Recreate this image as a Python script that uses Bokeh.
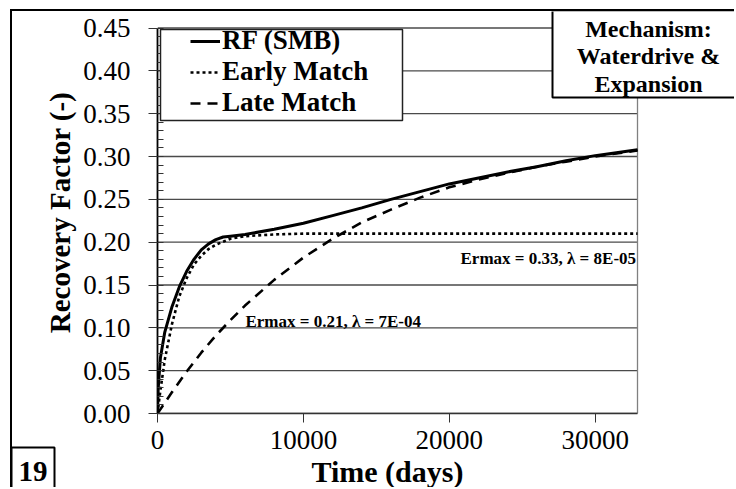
from bokeh.plotting import figure
from bokeh.models import (Range1d, FixedTicker, Legend, LegendItem, BoxAnnotation, Label, Title)
from bokeh.embed import file_html
from bokeh.resources import INLINE

# ---- data ----
time_rf = [0, 50, 200, 500, 1000, 1500, 2000, 2500, 3000, 3500, 4000, 4500, 5000, 6000,
           8000, 10000, 12000, 14000, 16000, 18000, 20000, 22000, 24000, 26000, 28000, 30000, 32900]
rf_smb = [0, 0.030, 0.065, 0.095, 0.125, 0.148, 0.166, 0.180, 0.191, 0.198, 0.203, 0.206, 0.207, 0.209,
          0.215, 0.222, 0.231, 0.240, 0.250, 0.259, 0.268, 0.275, 0.282, 0.288, 0.295, 0.301, 0.308]

time_early = [0, 200, 500, 1000, 1500, 2000, 2500, 3000, 3500, 4000, 5000, 6000, 8000, 10000,
              15000, 20000, 25000, 32900]
rf_early = [0, 0.027, 0.063, 0.105, 0.137, 0.158, 0.174, 0.184, 0.192, 0.197, 0.204, 0.207, 0.209, 0.210,
            0.210, 0.210, 0.210, 0.210]

time_late = [0, 1000, 2000, 3000, 4000, 5000, 6000, 8000, 10000, 12000, 14000, 16000, 18000, 20000,
             22000, 24000, 26000, 28000, 30000, 32900]
rf_late = [0, 0.025, 0.049, 0.071, 0.091, 0.109, 0.126, 0.156, 0.182, 0.204, 0.223, 0.238, 0.252, 0.264,
           0.273, 0.281, 0.288, 0.294, 0.300, 0.307]

series_names = ["RF (SMB)", "Early Match", "Late Match"]

x_max = 32900
y_max = 0.45
x_ticks = [0, 10000, 20000, 30000]
x_tick_labels = ["0", "10000", "20000", "30000"]
y_ticks = [0.0, 0.05, 0.10, 0.15, 0.20, 0.25, 0.30, 0.35, 0.40, 0.45]
y_tick_labels = ["0.00", "0.05", "0.10", "0.15", "0.20", "0.25", "0.30", "0.35", "0.40", "0.45"]
y_minor = [round(i * 0.01, 2) for i in range(46)]

x_title = "Time (days)"
y_title = "Recovery Factor (-)"
note_late = "Ermax = 0.33, \u03bb = 8E-05"
note_early = "Ermax = 0.21, \u03bb = 7E-04"
mechanism_lines = ["Mechanism:", "Waterdrive &", "Expansion"]
panel_number = "19"

FONT = "Liberation Serif"

# ---- layout (canvas pixels) ----
W, H = 724, 478
FL, FB = 145, 76             # frame left / bottom border
PLOT_W, PLOT_H = 480, 385.5  # size of the visible plotting box inside the frame
frame_w, frame_h = W - FL, H - FB
x_end = x_max * frame_w / PLOT_W
y_end = y_max * frame_h / PLOT_H

p = figure(width=W, height=H, output_backend="svg", toolbar_location=None, title_location=None,
           x_range=Range1d(0, x_end), y_range=Range1d(0, y_end),
           min_border_left=FL, min_border_right=0, min_border_top=0, min_border_bottom=FB)
p.styles = {"margin-left": "10px", "margin-top": "9px",
            "border-left": "2px solid black", "border-top": "2px solid black"}
p.background_fill_color = "white"
p.border_fill_color = "white"
p.outline_line_color = None
p.xgrid.grid_line_color = None
p.ygrid.grid_line_color = None

# horizontal grid lines and right border of the plotting box
n = len(y_ticks)
p.segment(x0=[0] * n, y0=y_ticks, x1=[x_max] * n, y1=y_ticks, line_color="#4a4a4a", line_width=1.3)
p.segment(x0=[x_max], y0=[0], x1=[x_max], y1=[y_max], line_color="#808080", line_width=1.3)

# axes
xa = p.xaxis[0]
xa.bounds = (0, x_max)
xa.ticker = FixedTicker(ticks=x_ticks)
xa.major_label_overrides = {t: l for t, l in zip(x_ticks, x_tick_labels)}
xa.major_tick_out = 9
xa.major_tick_in = 0
xa.minor_tick_out = 0
xa.minor_tick_in = 0
xa.major_tick_line_color = "#333333"
xa.axis_line_color = "#333333"
xa.axis_line_width = 1.3
xa.major_label_text_font = FONT
xa.major_label_text_font_size = "27px"
xa.major_label_text_color = "black"
xa.major_label_standoff = 8

ya = p.yaxis[0]
ya.bounds = (0, y_max)
ya.ticker = FixedTicker(ticks=y_ticks, minor_ticks=y_minor)
ya.major_label_overrides = {t: l for t, l in zip(y_ticks, y_tick_labels)}
ya.major_tick_out = 9
ya.major_tick_in = 0
ya.minor_tick_out = 0
ya.minor_tick_in = 6
ya.minor_tick_line_color = "#333333"
ya.major_tick_line_color = "#333333"
ya.axis_line_color = "black"
ya.axis_line_width = 1.8
ya.major_label_text_font = FONT
ya.major_label_text_font_size = "27px"
ya.major_label_text_color = "black"
ya.major_label_standoff = 18
ya.axis_label = y_title
ya.axis_label_text_font = FONT
ya.axis_label_text_font_size = "29px"
ya.axis_label_text_font_style = "bold"
ya.axis_label_text_color = "black"
ya.axis_label_standoff = 4

# x-axis title (centred under the visible plotting box, not the wider frame)
time_title = Title(text=x_title, align="left", vertical_align="bottom", offset=154, standoff=3,
                   text_font=FONT, text_font_size="30px", text_font_style="bold", text_color="black")
p.add_layout(time_title, "below")

# series
r_rf = p.line(time_rf, rf_smb, line_color="black", line_width=3)
r_early = p.line(time_early, rf_early, line_color="black", line_width=2.6, line_dash="3 3")
r_late = p.line(time_late, rf_late, line_color="black", line_width=2.6, line_dash="10 7")

# annotations on the plot
p.add_layout(Label(x=32800, y=0.181, text=note_late, text_align="right", text_baseline="alphabetic",
                   text_font=FONT, text_font_size="17px", text_font_style="bold", text_color="black"))
p.add_layout(Label(x=6030, y=0.107, text=note_early, text_align="left", text_baseline="alphabetic",
                   text_font=FONT, text_font_size="17px", text_font_style="bold", text_color="black"))

# legend box + legend
p.add_layout(BoxAnnotation(left=146, right=388, top=16, bottom=107,
                           left_units="canvas", right_units="canvas", top_units="canvas", bottom_units="canvas",
                           fill_color="white", fill_alpha=1, line_color="#222222", line_alpha=1, line_width=1.5))
legend = Legend(items=[LegendItem(label=series_names[0], renderers=[r_rf]),
                       LegendItem(label=series_names[1], renderers=[r_early]),
                       LegendItem(label=series_names[2], renderers=[r_late])],
                location=(31, 293), padding=2, spacing=0, margin=0,
                glyph_width=30, glyph_height=28, label_height=28, label_standoff=2,
                label_text_font=FONT, label_text_font_size="27px", label_text_font_style="bold",
                label_text_color="black", border_line_alpha=0, background_fill_alpha=0)
p.add_layout(legend, "center")

# mechanism box (inside the frame, top-right)
p.add_layout(BoxAnnotation(left=538, right=800, top=-3, bottom=84,
                           left_units="canvas", right_units="canvas", top_units="canvas", bottom_units="canvas",
                           fill_color="white", fill_alpha=1, line_color="black", line_alpha=1, line_width=2))
for i, line in enumerate(mechanism_lines):
    p.add_layout(Label(x=634, y=15 + 27.5 * i, x_units="canvas", y_units="canvas", text=line,
                       text_align="center", text_baseline="middle", text_font=FONT,
                       text_font_size="24px", text_font_style="bold", text_color="black"))

# panel number box (outside the frame, bottom-left)
num_title = Title(text=panel_number, align="left", vertical_align="top", offset=-146, standoff=-84,
                  text_font=FONT, text_font_size="29px", text_font_style="bold", text_color="black",
                  border_line_color="black", border_line_width=2, background_fill_color="white",
                  padding=(7, 14))
p.add_layout(num_title, "below")

open("out.html", "w").write(file_html(p, INLINE))
